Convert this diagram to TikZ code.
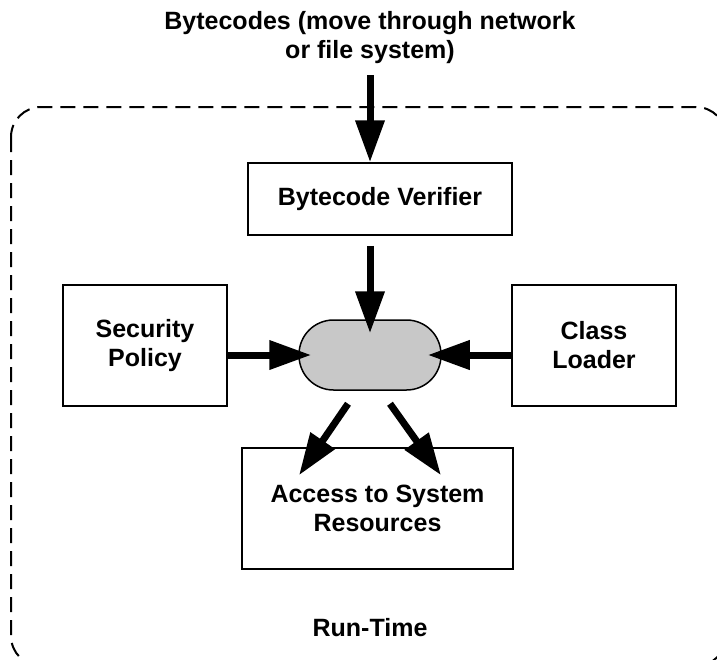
\documentclass[tikz,border=0pt]{standalone}
\usepackage{fontspec}
\setmainfont{Liberation Sans}
\usetikzlibrary{arrows.meta}

\definecolor{engine-gray}{HTML}{C8C8C8}
\tikzstyle{label-text}=[align=center, inner sep=0pt, font=\fontsize{25}{29}\selectfont\bfseries]
\tikzstyle{plain-box}=[label-text, draw, line width=1.5pt]
\tikzstyle{engine}=[draw, line width=1.5pt, fill=engine-gray, rounded corners=34.5pt, minimum width=142pt, minimum height=70pt]
\tikzstyle{fat-arrow}=[line width=7pt, -{Triangle[length=42pt,width=28pt]}]
\tikzstyle{run-frame}=[line width=2pt, dash pattern=on 15pt off 8pt, rounded corners=30pt]

\begin{document}
\begin{tikzpicture}
  \useasboundingbox (0pt,0pt) rectangle (717pt,-659pt);

  % dashed run-time frame
  \draw[run-frame] (11pt,-107pt) rectangle (726pt,-666pt);

  \node (title) at (370pt,-38pt) [label-text] {Bytecodes (move through network\\or file system)};
  \coordinate (feed) at (370pt,-75pt);

  \node (box-verifier) at (380pt,-199pt) [plain-box, minimum width=264pt, minimum height=72pt] {Bytecode Verifier};
  \node (engine)       at (370pt,-355pt) [engine] {};
  \node (box-policy)   at (145pt,-345.5pt) [plain-box, minimum width=164pt, minimum height=121pt] {Security\\Policy};
  \node (box-loader)   at (594pt,-345.5pt) [plain-box, minimum width=164pt, minimum height=121pt] {Class\\Loader};
  \node (box-access)   at (377.5pt,-508.5pt) [plain-box, minimum width=271pt, minimum height=121pt] {Access to System\\Resources};
  \node (runtime)      at (370pt,-628pt) [label-text] {Run-Time};

  \draw[fat-arrow] (feed) -- (feed |- box-verifier.north);
  \draw[fat-arrow, shorten <=10pt, shorten >=-14pt] (box-verifier.south -| engine.north) -- (engine.north);
  \draw[fat-arrow, shorten >=-13pt] (engine.west -| box-policy.east) -- (engine.west);
  \draw[fat-arrow, shorten >=-14pt] (engine.east -| box-loader.west) -- (engine.east);
  \draw[fat-arrow] ([xshift=-22pt,yshift=-13pt]engine.south) -- ([xshift=-78.5pt,yshift=-28pt]box-access.north);
  \draw[fat-arrow] ([xshift=20pt,yshift=-13pt]engine.south) -- ([xshift=63.5pt,yshift=-28pt]box-access.north);
\end{tikzpicture}
\end{document}
